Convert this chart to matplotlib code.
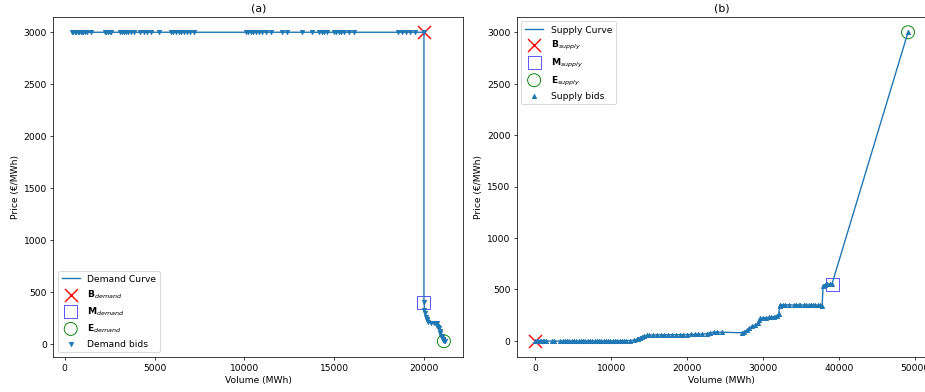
import matplotlib.pyplot as plt

# demand bids: cumulative volume (MWh) and price (EUR/MWh)
demand_volume = [400, 480, 560, 640, 720, 800, 880, 960, 1020, 1110, 1250, 1440,
                 2220, 2300, 2400, 2500, 2590, 3100, 3200, 3300, 3400, 3550, 3700, 3880,
                 4210, 4400, 4600, 4800, 5270, 5910, 6050, 6200, 6350, 6500, 6650, 6800,
                 6950, 7170, 10070, 10200, 10350, 10500, 10650, 10800, 11000, 11200, 11460,
                 12100, 12380, 13210, 13770, 14140, 14300, 14450, 14600, 14970, 15100,
                 15250, 15400, 15550, 15800, 16080, 18570, 18800, 19000, 19200, 19500, 20000,
                 20000, 20030, 20050, 20100, 20150, 20180, 20250, 20400, 20550, 20700, 20730,
                 20780, 20850, 20880, 20920, 20970, 21000, 21050, 21080, 21110, 21150]
demand_price = [3000] * 68 + [407, 330, 300, 260, 240, 225, 210, 205, 200, 205, 170,
                              160, 150, 120, 100, 75, 65, 50, 40, 30, 25]

# supply bids
supply_volume = [0, 200, 400, 600, 800, 1000, 1200, 1400, 2150, 2450,
                 3300, 3600, 3900, 4200, 4500, 4800, 5100, 5400, 5700, 6000, 6300, 6600,
                 6900, 7200, 7500, 7800, 8100, 8400, 8700, 9000, 9300, 9600, 9900, 10200,
                 10500, 10800, 11100, 11400, 11700, 12000, 12500, 13000, 13350, 13500,
                 13800, 14000, 14300, 14670, 15000, 15500, 16000, 16500, 17000, 17500,
                 18000, 18500, 19000, 19500, 19950, 20500, 21000, 21500, 22000, 22600,
                 23000, 23480, 24000, 24580, 27230, 27500, 27890, 28200, 28550, 28990,
                 29340, 29500, 29650, 30000, 30400, 30800, 31100, 31400, 31800, 32070,
                 32200, 32290, 32600, 32950, 33400, 34050, 34400, 34700, 34940, 35380,
                 35700, 36000, 36300, 36600, 36900, 37200, 37500, 37800, 37920, 38230,
                 38500, 38800, 39110, 49115]
supply_price = [0, -2, -3, 0, -4, -2, -3, -1, -3, -2,
                -3, -2, -4, -1, -3, -2, -1, -3, -2, -3, -1, -2,
                -3, -2, -1, -2, -3, -2, -1, -2, -3, -1, -2, 0,
                -1, 0, 1, 0, 1, 2, 3, 8, 13, 20,
                30, 39, 45, 52, 55, 57, 58, 58, 59, 59,
                60, 60, 60, 61, 61, 62, 63, 64, 66, 71,
                76, 84, 84, 84, 78, 85, 104, 120, 142, 149,
                175, 200, 220, 222, 225, 228, 230, 233, 245, 256,
                343, 353, 350, 348, 352, 347, 351, 349, 345, 350,
                348, 346, 350, 347, 349, 345, 348, 343, 537, 547,
                550, 553, 557, 3000]

# highlighted points: begin, middle, end of each curve
demand_b = (20000, 3000)
demand_m = (20000, 400)
demand_e = (21110, 25)
supply_b = (0, 0)
supply_m = (39110, 550)
supply_e = (49115, 3000)

fig = plt.figure(figsize=(14, 5.94))
ax1 = fig.add_axes([0.0576, 0.090, 0.4432, 0.866])
ax2 = fig.add_axes([0.5586, 0.090, 0.4432, 0.866])

ax1.plot(demand_volume, demand_price, label='Demand Curve')
ax1.scatter(*demand_b, marker='x', s=200, color='red', label=r'$\mathbf{B}_{demand}$')
ax1.scatter(*demand_m, marker='s', s=200, facecolors='none', edgecolors='blue', alpha=0.7,
            label=r'$\mathbf{M}_{demand}$')
ax1.scatter(*demand_e, marker='o', s=200, facecolors='none', edgecolors='green',
            label=r'$\mathbf{E}_{demand}$')
ax1.scatter(demand_volume, demand_price, marker='v', s=20, label='Demand bids')
ax1.set_title('(a)')
ax1.set_xlabel('Volume (MWh)')
ax1.set_ylabel('Price (€/MWh)')
ax1.legend(loc='lower left')

ax2.plot(supply_volume, supply_price, label='Supply Curve')
ax2.scatter(*supply_b, marker='x', s=200, color='red', label=r'$\mathbf{B}_{supply}$')
ax2.scatter(*supply_m, marker='s', s=200, facecolors='none', edgecolors='blue', alpha=0.7,
            label=r'$\mathbf{M}_{supply}$')
ax2.scatter(*supply_e, marker='o', s=200, facecolors='none', edgecolors='green',
            label=r'$\mathbf{E}_{supply}$')
ax2.scatter(supply_volume, supply_price, marker='^', s=20, label='Supply bids')
ax2.set_title('(b)')
ax2.set_xlabel('Volume (MWh)')
ax2.set_ylabel('Price (€/MWh)')
ax2.legend(loc='upper left')

fig.savefig('out.png', dpi=925 / 14)
